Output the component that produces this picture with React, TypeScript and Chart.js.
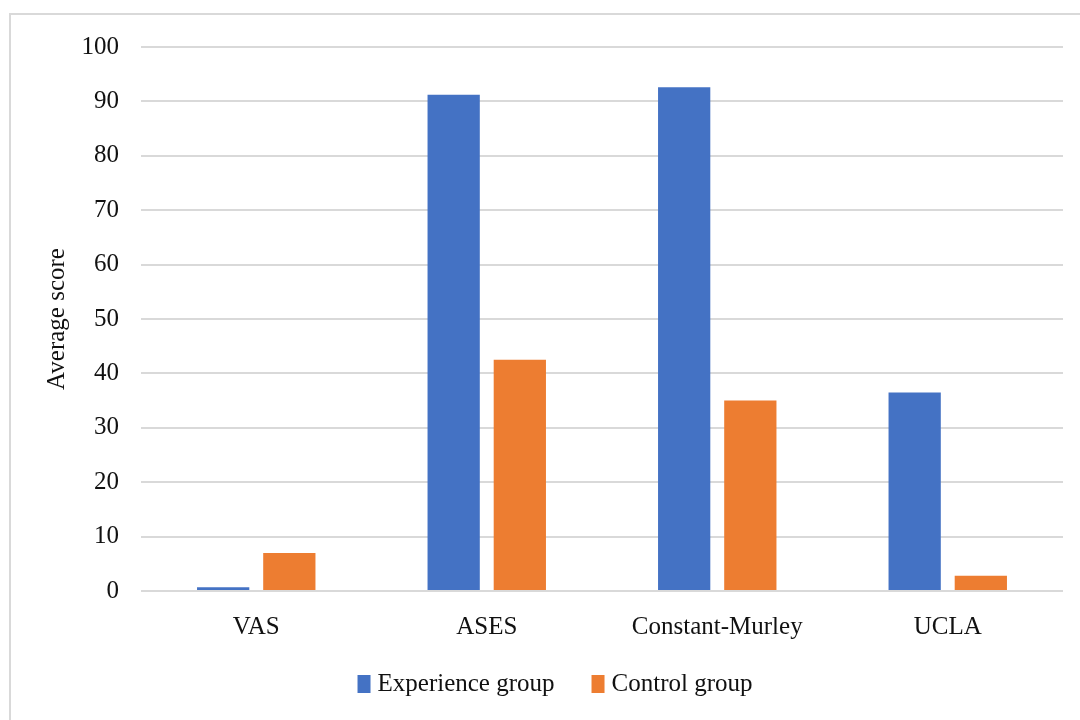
import React, { useEffect, useRef } from "react";
import { Chart, registerables } from "chart.js";

Chart.register(...registerables);

const categories = ["VAS", "ASES", "Constant-Murley", "UCLA"];
const experienceGroup = [0.7, 91.2, 92.6, 36.5];
const controlGroup = [7.0, 42.5, 35.0, 2.8];
const seriesNames = ["Experience group", "Control group"];
const seriesColors = ["#4472c4", "#ed7d31"];

const FONT = "'Liberation Serif', 'Times New Roman', serif";
const TEXT = "#111111";

const borderPlugin = {
  id: "outerBorder",
  beforeDraw(chart: any) {
    const ctx = chart.ctx;
    ctx.save();
    ctx.fillStyle = "#ffffff";
    ctx.fillRect(0, 0, chart.width, chart.height);
    ctx.strokeStyle = "#d9d9d9";
    ctx.lineWidth = 2;
    ctx.strokeRect(10, 14, chart.width + 20, chart.height + 20);
    ctx.restore();
  },
};

// Legend drawn from the chart's own datasets, placed below the axis like the Excel legend
const legendPlugin = {
  id: "bottomLegend",
  afterDraw(chart: any) {
    const ctx = chart.ctx;
    ctx.save();
    ctx.font = `25px ${FONT}`;
    ctx.textBaseline = "middle";
    ctx.textAlign = "left";
    const boxW = 13;
    const boxH = 18;
    const textGap = 7;
    const itemGap = 37;
    const items = chart.data.datasets.map((ds: any) => ({
      label: ds.label,
      color: ds.backgroundColor,
      w: boxW + textGap + ctx.measureText(ds.label).width,
    }));
    const total = items.reduce((s: number, it: any) => s + it.w, 0) + itemGap * (items.length - 1);
    let x = chart.width / 2 + 15 - total / 2;
    const y = chart.height - 36;
    items.forEach((it: any) => {
      ctx.fillStyle = it.color;
      ctx.fillRect(x, y - boxH / 2, boxW, boxH);
      ctx.fillStyle = TEXT;
      ctx.fillText(it.label, x + boxW + textGap, y);
      x += it.w + itemGap;
    });
    ctx.restore();
  },
};

export default function App() {
  const ref = useRef<HTMLCanvasElement>(null);
  useEffect(() => {
    if (!ref.current) return;
    const chart = new Chart(ref.current, {
      type: "bar",
      data: {
        labels: categories,
        datasets: [
          {
            label: seriesNames[0],
            data: experienceGroup,
            backgroundColor: seriesColors[0],
            categoryPercentage: 0.574,
            barPercentage: 0.79,
          },
          {
            label: seriesNames[1],
            data: controlGroup,
            backgroundColor: seriesColors[1],
            categoryPercentage: 0.574,
            barPercentage: 0.79,
          },
        ],
      },
      options: {
        responsive: false,
        animation: false,
        layout: { padding: { left: 0, right: 17, top: 47, bottom: 65 } },
        plugins: {
          legend: { display: false },
          tooltip: { enabled: false },
        },
        scales: {
          x: {
            grid: { display: false },
            border: { display: false },
            ticks: {
              font: { family: FONT, size: 25 },
              color: TEXT,
              padding: 13,
            },
          },
          y: {
            min: 0,
            max: 100,
            afterFit: (scale: any) => {
              scale.width = 141;
            },
            ticks: {
              stepSize: 10,
              font: { family: FONT, size: 25 },
              color: TEXT,
              padding: 22,
            },
            grid: { color: "#d9d9d9", lineWidth: 2, drawTicks: false },
            border: { display: false },
            title: {
              display: true,
              text: "Average score",
              font: { family: FONT, size: 25 },
              color: TEXT,
              padding: { top: 42, bottom: 0 },
            },
          },
        },
      },
      plugins: [borderPlugin, legendPlugin],
    });
    return () => chart.destroy();
  }, []);
  return (
    <div style={{ position: "absolute", left: 0, top: 0, width: 1080, height: 720 }}>
      <canvas ref={ref} width={1080} height={720} style={{ display: "block" }} />
    </div>
  );
}
